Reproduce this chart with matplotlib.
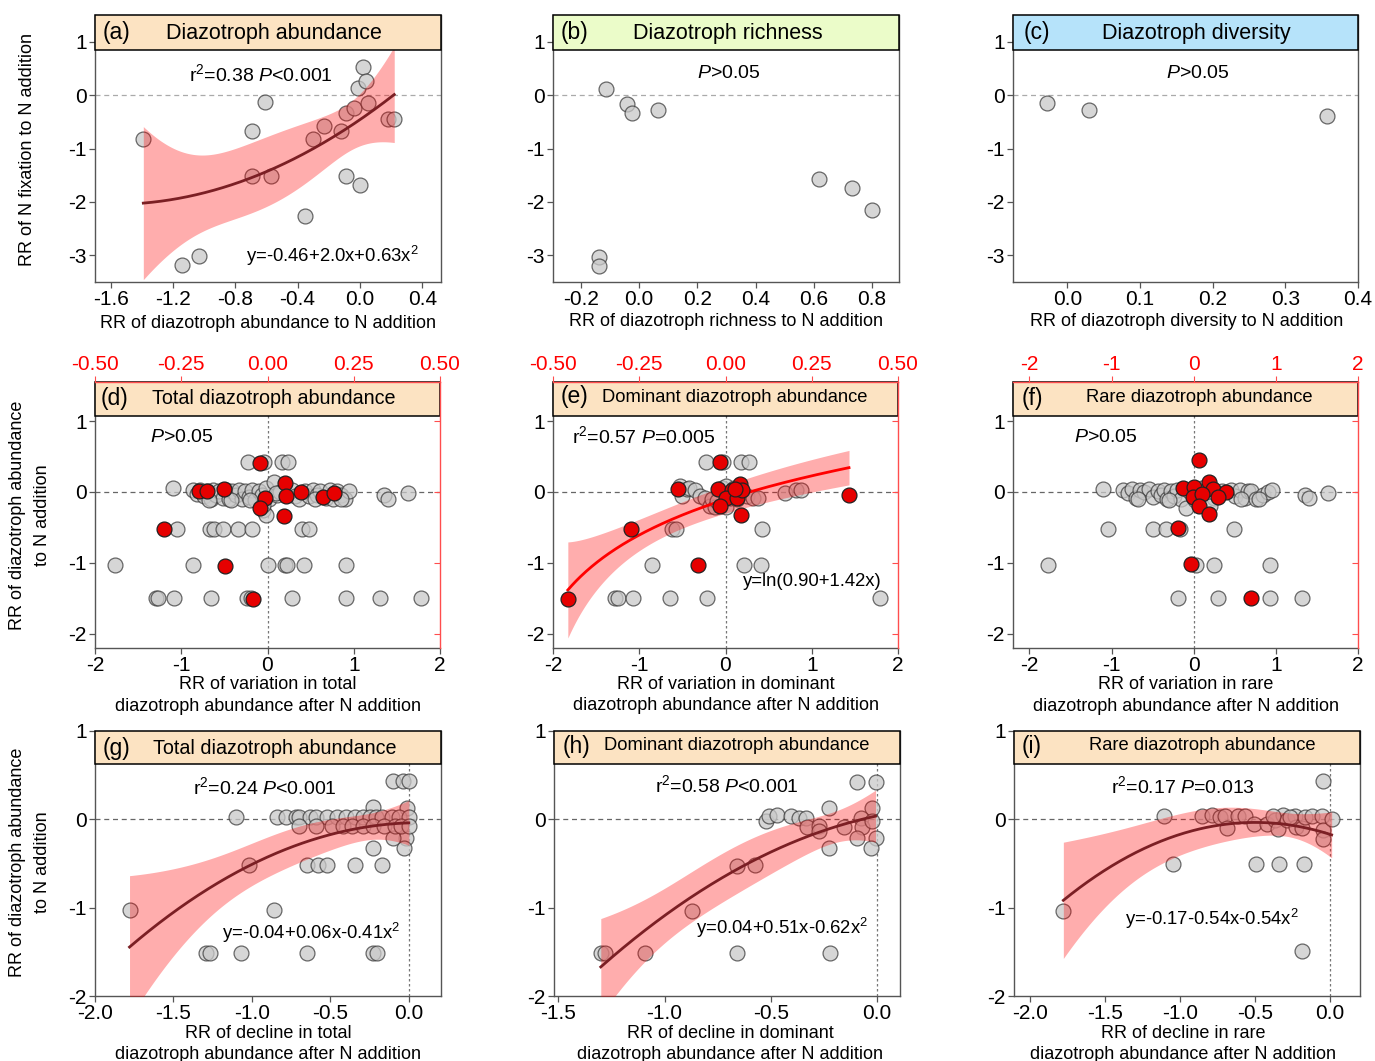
import numpy as np
import matplotlib
matplotlib.use("Agg")
import matplotlib.pyplot as plt
from matplotlib.patches import Rectangle

plt.rcParams['font.family'] = ['Liberation Sans', 'DejaVu Sans']
plt.rcParams['mathtext.fontset'] = 'custom'
plt.rcParams['mathtext.rm'] = 'Liberation Sans'
plt.rcParams['mathtext.it'] = 'Liberation Sans:italic'
plt.rcParams['axes.unicode_minus'] = False

# ---- data ----
# (a) N fixation vs diazotroph abundance
a_x = [-1.39, -1.14, -1.03, -0.69, -0.61, -0.69, -0.57, -0.35, -0.30, -0.23, -0.12,
       -0.09, -0.04, -0.09, 0.00, -0.01, 0.02, 0.04, 0.05, 0.18, 0.22]
a_y = [-0.83, -3.18, -3.02, -0.68, -0.13, -1.52, -1.52, -2.26, -0.83, -0.58, -0.68,
       -0.33, -0.25, -1.52, -1.68, 0.13, 0.53, 0.26, -0.15, -0.44, -0.44]
a_coef = [-0.46, 2.0, 0.63]

# (b) richness
b_x = [-0.115, -0.04, -0.023, 0.066, -0.138, -0.138, 0.617, 0.731, 0.80]
b_y = [0.11, -0.16, -0.34, -0.28, -3.04, -3.20, -1.58, -1.74, -2.15]

# (c) diversity
c_x = [-0.028, 0.03, 0.357]
c_y = [-0.15, -0.28, -0.40]

# (d) variation in total abundance (grey: bottom axis, red: top axis)
d_gray_x = [-0.23, -0.04, 0.17, 0.24,
            -1.05, -0.67, -0.62, -0.52, -0.34, -0.18, 0.40, 0.48,
            -1.77, -0.86, 0.01, 0.20, 0.23, 0.42, 0.91,
            -1.29, -1.27, -1.08, -0.65, -0.24, -0.19, 0.28, 0.91, 1.31, 1.78,
            -1.10, -0.86, -0.82, -0.78, -0.74, -0.70, -0.66, -0.63, -0.60, -0.56,
            -0.52, -0.48, -0.45, -0.41, -0.37, -0.33, -0.30, -0.26, -0.22, -0.18,
            -0.14, -0.10, -0.06, -0.02, 0.02, 0.07, 0.11, 0.15, 0.28, 0.32,
            0.36, 0.44, 0.48, 0.53, 0.57, 0.61, 0.68, 0.72, 0.76, 0.81,
            0.85, 0.90, 0.94, 1.35, 1.40, 1.63, -0.68, -0.42, -0.20, -0.05,
            -0.02, 0.55, 0.85, -0.05, 0.10]
d_gray_y = [0.42, 0.42, 0.42, 0.42,
            -0.52, -0.52, -0.52, -0.52, -0.52, -0.52, -0.52, -0.52,
            -1.03, -1.03, -1.03, -1.03, -1.03, -1.03, -1.03,
            -1.50, -1.50, -1.50, -1.50, -1.50, -1.50, -1.50, -1.50, -1.50, -1.50,
            0.05, 0.03, -0.03, 0.03, -0.06, 0.02, -0.10, 0.03, -0.05, 0.02,
            -0.08, 0.03, -0.10, 0.02, -0.05, 0.03, -0.10, 0.02, -0.07, 0.03,
            -0.12, 0.02, -0.05, 0.06, -0.10, 0.14, -0.04, 0.00, 0.03, -0.06,
            -0.10, 0.02, -0.06, 0.03, -0.04, 0.02, -0.08, 0.03, -0.10, 0.02,
            -0.05, -0.10, 0.01, -0.05, -0.10, -0.02, -0.12, -0.12, -0.12, -0.25,
            -0.33, -0.10, -0.10, -0.18, -0.02]
d_red_x = [-0.021, -0.300, -0.124, -0.042, -0.199, -0.176, -0.125, -0.006, -0.021,
           0.050, 0.054, 0.049, 0.097, 0.162, 0.192]
d_red_y = [0.41, -0.52, -1.04, -1.51, 0.02, 0.02, 0.04, -0.09, -0.22,
           0.12, -0.055, -0.34, 0.00, -0.07, -0.02]

# (e) variation in dominant abundance
e_gray_x = [-0.23, -0.03, 0.18, 0.27,
            -0.62, -0.57, 0.42,
            -0.85, 0.21, 0.41,
            -1.28, -1.25, -1.07, -0.64, -0.22, 1.79,
            -0.53, -0.51, -0.45, -0.42, -0.35, -0.30, -0.24, -0.18, -0.16, -0.12,
            -0.10, -0.04, 0.01, 0.01, 0.05, 0.10, 0.13, 0.25, 0.32, 0.38,
            0.69, 0.82, 0.88]
e_gray_y = [0.42, 0.42, 0.42, 0.42,
            -0.52, -0.52, -0.52,
            -1.03, -1.03, -1.03,
            -1.50, -1.50, -1.50, -1.50, -1.50, -1.50,
            0.085, -0.056, 0.04, 0.06, 0.03, -0.056, -0.08, -0.197, -0.10, -0.206,
            -0.127, 0.06, 0.085, -0.206, -0.08, 0.05, -0.10, -0.056, -0.08, -0.08,
            -0.01, 0.03, 0.03]
e_red_x = [-0.016, -0.273, -0.079, -0.457, -0.137, -0.021, 0.018, 0.001, 0.042,
           0.033, 0.047, -0.016, 0.044, 0.358, 0.028]
e_red_y = [0.42, -0.525, -1.03, -1.51, 0.04, 0.04, 0.03, -0.09, 0.11,
           -0.08, 0.03, -0.20, -0.32, -0.047, 0.04]
e_log = [0.90, 1.42]

# (f) variation in rare abundance
f_gray_x = [-1.04, -0.50, -0.34, -0.17, 0.49,
            -1.77, 0.03, 0.25, 0.93,
            -0.19, 0.29, 0.93, 1.32,
            -1.10, -0.86, -0.80, -0.75, -0.70, -0.66, -0.60, -0.55, -0.50, -0.44,
            -0.40, -0.36, -0.32, -0.28, -0.24, -0.20, -0.16, -0.10, -0.06, 0.02,
            0.10, 0.25, 0.35, 0.45, 0.50, 0.56, 0.62, 0.66, 0.70, 0.76,
            0.84, 0.90, 0.95, 1.35, 1.40, 1.63, -0.68, -0.30, 0.20, 0.58, 0.80]
f_gray_y = [-0.52, -0.52, -0.52, -0.52, -0.52,
            -1.03, -1.03, -1.03, -1.03,
            -1.50, -1.50, -1.50, -1.50,
            0.04, 0.03, -0.02, 0.04, -0.08, 0.03, 0.00, 0.04, -0.07, 0.02,
            -0.05, 0.03, -0.10, 0.02, -0.06, 0.03, -0.10, -0.22, 0.02, -0.12,
            0.05, -0.08, 0.02, 0.03, -0.06, 0.03, -0.08, 0.02, 0.02, -0.10,
            -0.04, 0.00, 0.03, -0.05, -0.09, -0.02, -0.10, -0.12, -0.20, -0.10, -0.10]
f_red_x = [0.063, -0.197, -0.039, 0.695, -0.136, 0.006, 0.184, 0.229, 0.399,
           -0.014, 0.095, 0.298, 0.063, 0.184]
f_red_y = [0.447, -0.508, -1.01, -1.49, 0.05, 0.07, 0.146, 0.04, 0.00,
           -0.066, -0.03, -0.066, -0.197, -0.315]

# (g) decline in total abundance
g_x = [-0.10, -0.04, 0.00,
       -1.10, -0.01, -0.02, -0.03, -0.10, -0.23, -0.23,
       -1.02, -0.65, -0.58, -0.52, -0.34, -0.17,
       -1.78, -0.86,
       -1.29, -1.27, -1.07, -0.65, -0.23, -0.20,
       -0.84, -0.78, -0.72, -0.70, -0.63, -0.59, -0.52, -0.46, -0.40, -0.34,
       -0.29, -0.25, -0.21, -0.17, -0.11, -0.06, 0.00,
       -0.70, -0.59, -0.49, -0.42, -0.36, -0.29, -0.23, -0.16, -0.09, -0.05, 0.00]
g_y = [0.43, 0.43, 0.43,
       0.03, 0.13, -0.21, -0.32, -0.21, -0.32, 0.14,
       -0.52, -0.52, -0.52, -0.52, -0.52, -0.52,
       -1.03, -1.03,
       -1.51, -1.51, -1.51, -1.51, -1.51, -1.51,
       0.03, 0.03, 0.03, 0.03, 0.03, 0.03, 0.03, 0.03, 0.03, 0.03,
       0.03, 0.03, 0.03, 0.03, 0.03, 0.03, 0.03,
       -0.075, -0.075, -0.075, -0.075, -0.075, -0.075, -0.075, -0.075, -0.075, -0.075, -0.075]
g_coef = [-0.04, 0.06, -0.41]

# (h) decline in dominant abundance
h_x = [-0.094, -0.008, -0.227, -0.024, -0.522, -0.509, -0.470, -0.404, -0.368, -0.337,
       -0.330, -0.274, -0.274, -0.157, -0.078, -0.070, -0.024, -0.094, -0.008, -0.030,
       -0.227, -0.661, -0.575, -0.873, -1.300, -1.280, -1.092, -0.661, -0.223]
h_y = [0.426, 0.426, 0.125, 0.125, -0.02, 0.04, 0.05, 0.04, 0.02, 0.02,
       -0.087, -0.075, -0.13, -0.087, 0.02, -0.087, -0.02, -0.215, -0.215, -0.33,
       -0.33, -0.528, -0.52, -1.04, -1.51, -1.51, -1.51, -1.51, -1.51]
h_coef = [0.04, 0.51, -0.62]

# (i) decline in rare abundance
i_x = [-0.044, -1.104, -1.778, -1.044, -0.496, -0.340, -0.171, -0.189,
       -0.851, -0.784, -0.733, -0.700, -0.689, -0.611, -0.567, -0.507, -0.422, -0.367,
       -0.344, -0.311, -0.284, -0.233, -0.229, -0.189, -0.167, -0.122, -0.056, -0.044,
       -0.044, 0.011, -0.378, -0.267]
i_y = [0.432, 0.034, -1.034, -0.511, -0.511, -0.511, -0.511, -1.496,
       0.034, 0.045, 0.026, 0.034, -0.094, 0.034, 0.034, -0.049, -0.056, -0.011,
       -0.105, 0.045, -0.011, 0.034, -0.086, -0.094, 0.026, 0.034, 0.034, -0.124,
       -0.218, 0.000, 0.034, 0.026]
i_coef = [-0.17, -0.54, -0.54]

# tick labels
row1_yt = ['1', '0', '-1', '-2', '-3']
row23_yt = ['1', '0', '-1', '-2']
a_xt = ['-1.6', '-1.2', '-0.8', '-0.4', '0.0', '0.4']
b_xt = ['-0.2', '0.0', '0.2', '0.4', '0.6', '0.8']
c_xt = ['0.0', '0.1', '0.2', '0.3', '0.4']
var_xt = ['-2', '-1', '0', '1', '2']
top_de_xt = ['-0.50', '-0.25', '0.00', '0.25', '0.50']
gi_xt = ['-2.0', '-1.5', '-1.0', '-0.5', '0.0']
h_xt = ['-1.5', '-1.0', '-0.5', '0.0']

PEACH, GREEN, BLUE = '#fce3c2', '#ebfcc9', '#b6e3fa'
GRID = '#555555'
TICK_FS = 15

W, H = 1375, 1061
fig = plt.figure(figsize=(W / 100, H / 100), dpi=100)


def make_ax(l, t, r, b):
    return fig.add_axes([l / W, 1 - b / H, (r - l) / W, (b - t) / H])


def ftext(x, y, s, **kw):
    kw.setdefault('ha', 'center')
    kw.setdefault('va', 'center')
    fig.text(x / W, 1 - y / H, s, **kw)


def setup(ax, xlim, ylim, xt, yt, hfrac, hcolor, right=True, dash='#999999'):
    ax.set_xlim(*xlim)
    ax.set_ylim(*ylim)
    ax.set_xticks([float(v) for v in xt])
    ax.set_xticklabels(xt)
    ax.set_yticks([float(v) for v in yt])
    ax.set_yticklabels(yt)
    for s in ax.spines.values():
        s.set_color(GRID)
        s.set_linewidth(1.0)
    ax.spines['top'].set_visible(False)
    ax.spines['right'].set_visible(right)
    ax.tick_params(direction='out', length=4, width=0.9, color=GRID,
                   labelsize=TICK_FS, pad=2)
    ax.axhline(0, ls=(0, (4, 3)), color=dash, lw=0.9, zorder=1)
    ax.add_patch(Rectangle((0, 1 - hfrac), 1, hfrac, transform=ax.transAxes,
                           fc=hcolor, ec='black', lw=1.1, zorder=6, clip_on=False))


def red_twin(ax, xlim, xt):
    ax2 = fig.add_axes(ax.get_position())
    ax2.patch.set_visible(False)
    ax2.set_xlim(*xlim)
    ax2.set_ylim(ax.get_ylim())
    ax2.xaxis.tick_top()
    ax2.yaxis.tick_right()
    ax2.set_xticks([float(v) for v in xt])
    ax2.set_xticklabels(xt)
    ax2.set_yticks(ax.get_yticks())
    ax2.set_yticklabels([])
    for k in ['left', 'bottom']:
        ax2.spines[k].set_visible(False)
    for k in ['top', 'right']:
        ax2.spines[k].set_color('#ff4d4d')
        ax2.spines[k].set_linewidth(1.0)
        ax2.spines[k].set_zorder(8)
    ax2.tick_params(axis='x', direction='out', length=4, color='#ff4d4d',
                    labelcolor='red', labelsize=TICK_FS, pad=2)
    ax2.tick_params(axis='y', direction='in', length=4, color='#ff4d4d')
    return ax2


def gray(ax, x, y):
    ax.scatter(x, y, s=115, fc='#c9c9c9', ec='#3a3a3a', lw=0.9, alpha=0.75, zorder=3)


def red(ax, x, y):
    ax.scatter(x, y, s=115, fc='#e60000', ec='#222222', lw=0.9, zorder=7)


def tcrit(df):
    z = 1.959964
    return z + (z ** 3 + z) / (4 * df) + (5 * z ** 5 + 16 * z ** 3 + 3 * z) / (96 * df ** 2)


def quad_fit(ax, x, y, coef):
    x, y = np.asarray(x), np.asarray(y)
    xs = np.linspace(x.min(), x.max(), 200)
    X = np.vander(x, 3, increasing=True)
    Xs = np.vander(xs, 3, increasing=True)
    b = np.asarray(coef)
    res = y - X @ b
    df = len(x) - 3
    cov = (res @ res / df) * np.linalg.inv(X.T @ X)
    hw = tcrit(df) * np.sqrt(np.einsum('ij,jk,ik->i', Xs, cov, Xs))
    fit = Xs @ b
    ax.fill_between(xs, fit - hw, fit + hw, color='red', alpha=0.32, lw=0, zorder=4)
    ax.plot(xs, fit, color='#7b1f24', lw=2, zorder=5)


def log_fit(ax, x, y, ab):
    a, b = ab
    x, y = np.asarray(x), np.asarray(y)
    xs = np.linspace(x.min(), x.max(), 200)
    mu = a + b * x
    res = y - np.log(mu)
    J = np.column_stack([1 / mu, x / mu])
    df = len(x) - 2
    cov = (res @ res / df) * np.linalg.inv(J.T @ J)
    mus = a + b * xs
    G = np.column_stack([1 / mus, xs / mus])
    hw = tcrit(df) * np.sqrt(np.einsum('ij,jk,ik->i', G, cov, G))
    fit = np.log(mus)
    ax.fill_between(xs, fit - hw, fit + hw, color='red', alpha=0.32, lw=0, zorder=4)
    ax.plot(xs, fit, color='red', lw=2, zorder=5)


# ---- row 1 ----
ax = make_ax(95, 15, 441, 282)
setup(ax, (-1.70, 0.52), (-3.5, 1.5), a_xt, row1_yt, 0.131, PEACH, dash='#aaaaaa')
gray(ax, a_x, a_y)
quad_fit(ax, a_x, a_y, a_coef)

ax = make_ax(553, 15, 899, 282)
setup(ax, (-0.296, 0.893), (-3.5, 1.5), b_xt, row1_yt, 0.131, GREEN, dash='#aaaaaa')
gray(ax, b_x, b_y)

ax = make_ax(1013, 15, 1358, 282)
setup(ax, (-0.075, 0.40), (-3.5, 1.5), c_xt, row1_yt, 0.131, BLUE, dash='#aaaaaa')
gray(ax, c_x, c_y)

# ---- row 2 ----
ax = make_ax(95, 382, 440, 648)
setup(ax, (-2, 2), (-2.2, 1.55), var_xt, row23_yt, 0.128, PEACH, right=False, dash='#666666')
ax.axvline(0, ls=(0, (2, 2)), color='#777777', lw=0.9, zorder=1)
gray(ax, d_gray_x, d_gray_y)
ax2 = red_twin(ax, (-0.5, 0.5), top_de_xt)
red(ax2, d_red_x, d_red_y)

ax = make_ax(553, 382, 898, 648)
setup(ax, (-2, 2), (-2.2, 1.55), var_xt, row23_yt, 0.128, PEACH, right=False, dash='#666666')
ax.axvline(0, ls=(0, (2, 2)), color='#777777', lw=0.9, zorder=1)
gray(ax, e_gray_x, e_gray_y)
ax2 = red_twin(ax, (-0.5, 0.5), top_de_xt)
log_fit(ax2, e_red_x, e_red_y, e_log)
red(ax2, e_red_x, e_red_y)

ax = make_ax(1013, 382, 1358, 648)
setup(ax, (-2.2, 2), (-2.2, 1.55), var_xt, row23_yt, 0.128, PEACH, right=False, dash='#666666')
ax.axvline(0, ls=(0, (2, 2)), color='#777777', lw=0.9, zorder=1)
gray(ax, f_gray_x, f_gray_y)
ax2 = red_twin(ax, (-2.2, 2), var_xt)
red(ax2, f_red_x, f_red_y)

# ---- row 3 ----
for (l, r), xlim, xt, gx, gy, coef in [
        ((95, 441), (-2.0, 0.205), gi_xt, g_x, g_y, g_coef),
        ((554, 900), (-1.52, 0.107), h_xt, h_x, h_y, h_coef),
        ((1014, 1360), (-2.107, 0.2), gi_xt, i_x, i_y, i_coef)]:
    ax = make_ax(l, 731, r, 996)
    setup(ax, xlim, (-2, 1), xt, row23_yt, 0.125, PEACH, dash='#666666')
    ax.axvline(0, ls=(0, (2, 2)), color='#777777', lw=0.9, zorder=1)
    gray(ax, gx, gy)
    quad_fit(ax, gx, gy, coef)

# ---- headers ----
labels = [('(a)', 116, 33), ('(b)', 575, 33), ('(c)', 1037, 33),
          ('(d)', 115, 399), ('(e)', 574, 397), ('(f)', 1032, 398),
          ('(g)', 117, 748), ('(h)', 577, 746), ('(i)', 1032, 746)]
for s, x, y in labels:
    ftext(x, y, s, fontsize=16.5, zorder=10)

titles = [('Diazotroph abundance', 274, 33, 15.5), ('Diazotroph richness', 728, 33, 15.5),
          ('Diazotroph diversity', 1196, 33, 15.5),
          ('Total diazotroph abundance', 274, 399, 14.2), ('Dominant diazotroph abundance', 735, 397, 13.2),
          ('Rare diazotroph abundance', 1199, 398, 13.2),
          ('Total diazotroph abundance', 275, 748, 14.2), ('Dominant diazotroph abundance', 737, 746, 13.2),
          ('Rare diazotroph abundance', 1202, 746, 13.2)]
for s, x, y, fs in titles:
    ftext(x, y, s, fontsize=fs, zorder=10)

# ---- statistics ----
stats = [(r'r$^{2}$=0.38 $P$<0.001', 261, 74), ('$P$>0.05', 729, 73), ('$P$>0.05', 1198, 74),
         ('$P$>0.05', 182, 438), (r'r$^{2}$=0.57 $P$=0.005', 644, 436), ('$P$>0.05', 1106, 438),
         (r'r$^{2}$=0.24 $P$<0.001', 265, 787), (r'r$^{2}$=0.58 $P$<0.001', 727, 785),
         (r'r$^{2}$=0.17 $P$=0.013', 1183, 786)]
for s, x, y in stats:
    ftext(x, y, s, fontsize=14, zorder=10)

eqs = [(r'y=-0.46+2.0x+0.63x$^{2}$', 332, 256), ('y=ln(0.90+1.42x)', 812, 581),
       (r'y=-0.04+0.06x-0.41x$^{2}$', 311, 933), (r'y=0.04+0.51x-0.62x$^{2}$', 782, 928),
       (r'y=-0.17-0.54x-0.54x$^{2}$', 1212, 919)]
for s, x, y in eqs:
    ftext(x, y, s, fontsize=13.3, zorder=10)

# ---- axis labels ----
xlabels = [('RR of diazotroph abundance to N addition', 268, 323),
           ('RR of diazotroph richness to N addition', 726, 322),
           ('RR of diazotroph diversity to N addition', 1187, 322),
           ('RR of variation in total\ndiazotroph abundance after N addition', 268, 695.5),
           ('RR of variation in dominant\ndiazotroph abundance after N addition', 726, 695),
           ('RR of variation in rare\ndiazotroph abundance after N addition', 1186, 695.5),
           ('RR of decline in total\ndiazotroph abundance after N addition', 268, 1044),
           ('RR of decline in dominant\ndiazotroph abundance after N addition', 730, 1044),
           ('RR of decline in rare\ndiazotroph abundance after N addition', 1183, 1044)]
for s, x, y in xlabels:
    ftext(x, y, s, fontsize=13, linespacing=1.38)

ftext(28, 150, 'RR of N fixation to N addition', fontsize=13, rotation=90)
ftext(30, 515, 'RR of diazotroph abundance\nto N addition', fontsize=13, rotation=90,
      linespacing=1.55)
ftext(30, 862, 'RR of diazotroph abundance\nto N addition', fontsize=13, rotation=90,
      linespacing=1.55)

fig.savefig('out.png', dpi=100)
